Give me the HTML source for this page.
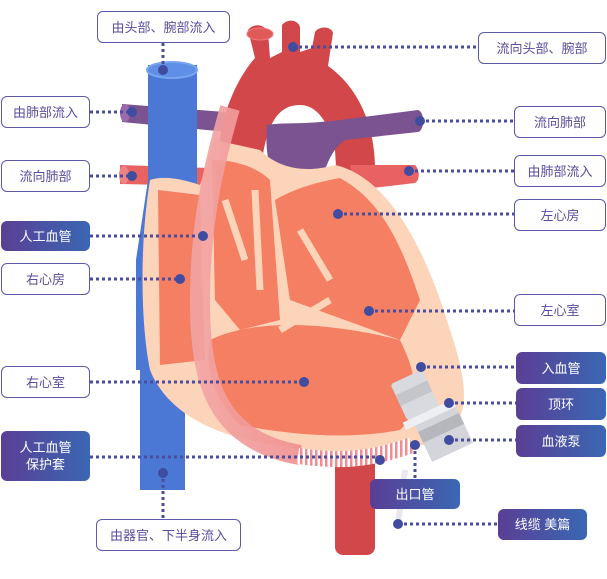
<!DOCTYPE html>
<html><head><meta charset="utf-8"><style>
html,body{margin:0;padding:0;background:#fff;}
body{width:607px;height:579px;position:relative;overflow:hidden;font-family:"Liberation Sans","Noto Sans CJK SC",sans-serif;}
.l{position:absolute;box-sizing:border-box;border:1.5px solid #5b5aa8;border-radius:6px;background:#fff;color:#5a4d9c;font-size:13px;display:flex;align-items:center;justify-content:center;text-align:center;line-height:17px;}
.f{border:none;background:linear-gradient(90deg,#5a3f95,#3a67b3);color:#fff;}
svg{position:absolute;left:0;top:0;}
</style></head><body>
<svg width="607" height="579" viewBox="0 0 607 579">
<defs><linearGradient id="g" x1="0" x2="1"><stop offset="0" stop-color="#f2a4a4"/><stop offset="1" stop-color="#f08f8f"/></linearGradient>
<pattern id="st" width="5" height="10" patternUnits="userSpaceOnUse"><rect width="5" height="10" fill="#fff"/><rect width="2.5" height="10" fill="#ef8e92"/></pattern></defs>
<rect x="335" y="420" width="40" height="135" rx="8" fill="#d2474a"/>
<rect x="140" y="350" width="45" height="140" fill="#4a78d4"/>
<path d="M122 104 L225 112 L228 132 L122 122 Z" fill="#7a5390"/>
<ellipse cx="125" cy="113" rx="5" ry="9" fill="#9a6aac"/>
<path d="M120 165 L210 168 L210 186 L120 184 Z" fill="#e86262"/>
<ellipse cx="124" cy="175" rx="5" ry="9" fill="#ef8282"/>
<rect x="148" y="65" width="49" height="330" fill="#4a78d4"/>
<path d="M148 180 L136 260 L136 370 L150 370 Z" fill="#4a78d4"/>
<ellipse cx="172" cy="70" rx="25" ry="8" fill="#5f8fe6" stroke="#7aa6f0" stroke-width="2"/>
<path d="M218 160 C220 110 240 75 255 58 L248 30 C255 22 265 25 268 32 L270 58 L282 52 L282 25 C288 18 298 20 300 27 L300 52 L312 48 L315 32 C320 25 332 27 333 33 L328 66 C355 85 375 120 375 170 L375 230 L340 230 L335 150 C330 125 318 105 300 105 C280 105 268 120 262 160 Z" fill="#d2474a"/>
<ellipse cx="260" cy="34" rx="13" ry="6" fill="#e05a5a" stroke="#ef7b7b"/>
<path d="M350 165 L415 165 C420 170 420 180 415 183 L355 190 Z" fill="#e86262"/>
<path d="M267 125 C285 122 300 125 340 120 L418 110 C425 112 425 130 418 132 L345 140 C330 150 325 170 320 185 L280 185 C268 170 265 150 267 125 Z" fill="#7a5390"/>
<path d="M150 180 C165 175 185 180 200 185 L215 140 L260 150 C275 165 300 175 335 165 C380 175 420 230 450 330 C470 390 470 420 440 440 C400 455 330 455 280 445 C230 440 170 420 150 370 C140 320 140 240 150 180 Z" fill="#fcd4b9"/>
<path d="M158 190 L200 195 L205 360 L160 365 Z" fill="#f47f62"/>
<path d="M212 160 C240 160 260 170 270 180 L280 320 L240 330 L215 300 Z" fill="#f47f62"/>
<path d="M275 200 C300 185 330 180 340 178 C380 200 400 240 420 300 L400 340 L290 300 Z" fill="#f47f62"/>
<path d="M210 340 C250 320 320 320 400 340 C420 380 420 410 400 430 C350 440 290 435 240 425 C215 400 205 370 210 340 Z" fill="#f47f62"/>
<path d="M225 200 L245 260 M255 190 L260 290 M300 230 L330 280 M280 330 L330 300" stroke="#fcd4b9" stroke-width="7" fill="none"/>
<path d="M230 108 C215 160 200 220 200 300 C200 380 215 440 300 455" stroke="url(#g)" stroke-width="20" fill="none" opacity=".9"/>
<path d="M298 456 C340 462 370 460 412 445" stroke="url(#st)" stroke-width="16" fill="none"/>
<g transform="rotate(-25 430 410)">
<rect x="405" y="370" width="35" height="40" rx="3" fill="#d8dadf"/>
<rect x="405" y="382" width="35" height="12" fill="#c4c6cc"/>
<rect x="400" y="410" width="55" height="8" fill="#eeeff2"/>
<rect x="410" y="418" width="45" height="40" fill="#d3d5da"/>
<rect x="410" y="425" width="45" height="12" fill="#b5b7bc"/>
</g>
<path d="M405 470 L398 524" stroke="#e8e8ee" stroke-width="6"/>
<g stroke="#4a4d9e" stroke-width="3" stroke-dasharray="3 3" fill="none">
<path d="M163 43 V70"/><path d="M293 47 H478"/><path d="M90 112 H132"/><path d="M90 176 H132"/>
<path d="M90 236 H203"/><path d="M90 279 H180"/><path d="M420 121 H514"/><path d="M409 171 H514"/>
<path d="M338 214 H514"/><path d="M369 311 H514"/><path d="M90 382 H304"/><path d="M421 367 H516"/>
<path d="M449 403 H516"/><path d="M449 440 H516"/><path d="M415 445 V479"/><path d="M90 457 H380"/>
<path d="M398 524 H498"/><path d="M163 473 V519"/>
</g>
<g fill="#3f4c9f">
<circle cx="163" cy="70" r="5"/><circle cx="293" cy="47" r="5"/><circle cx="132" cy="112" r="5"/><circle cx="132" cy="176" r="5"/>
<circle cx="203" cy="236" r="5"/><circle cx="180" cy="279" r="5"/><circle cx="420" cy="121" r="5"/><circle cx="409" cy="171" r="5"/>
<circle cx="338" cy="214" r="5"/><circle cx="369" cy="311" r="5"/><circle cx="304" cy="382" r="5"/><circle cx="421" cy="367" r="5"/>
<circle cx="449" cy="403" r="5"/><circle cx="449" cy="440" r="5"/><circle cx="415" cy="445" r="5"/><circle cx="380" cy="460" r="5"/>
<circle cx="398" cy="524" r="5"/><circle cx="163" cy="473" r="5"/>
</g>
</svg>
<div class="l" style="left:97px;top:11px;width:133px;height:32px">由头部、腕部流入</div>
<div class="l" style="left:478px;top:32px;width:128px;height:32px">流向头部、腕部</div>
<div class="l" style="left:1px;top:96px;width:89px;height:32px">由肺部流入</div>
<div class="l" style="left:1px;top:160px;width:89px;height:32px">流向肺部</div>
<div class="l f" style="left:1px;top:221px;width:89px;height:30px">人工血管</div>
<div class="l" style="left:1px;top:263px;width:89px;height:32px">右心房</div>
<div class="l" style="left:514px;top:106px;width:92px;height:32px">流向肺部</div>
<div class="l" style="left:514px;top:155px;width:92px;height:32px">由肺部流入</div>
<div class="l" style="left:514px;top:199px;width:92px;height:32px">左心房</div>
<div class="l" style="left:514px;top:294px;width:92px;height:32px">左心室</div>
<div class="l" style="left:1px;top:366px;width:89px;height:32px">右心室</div>
<div class="l f" style="left:1px;top:431px;width:89px;height:50px">人工血管<br>保护套</div>
<div class="l f" style="left:516px;top:352px;width:90px;height:32px">入血管</div>
<div class="l f" style="left:516px;top:388px;width:90px;height:32px">顶环</div>
<div class="l f" style="left:516px;top:425px;width:90px;height:32px">血液泵</div>
<div class="l f" style="left:370px;top:479px;width:90px;height:30px">出口管</div>
<div class="l f" style="left:498px;top:509px;width:89px;height:31px">线缆 美篇</div>
<div class="l" style="left:96px;top:519px;width:145px;height:32px">由器官、下半身流入</div>
</body></html>
